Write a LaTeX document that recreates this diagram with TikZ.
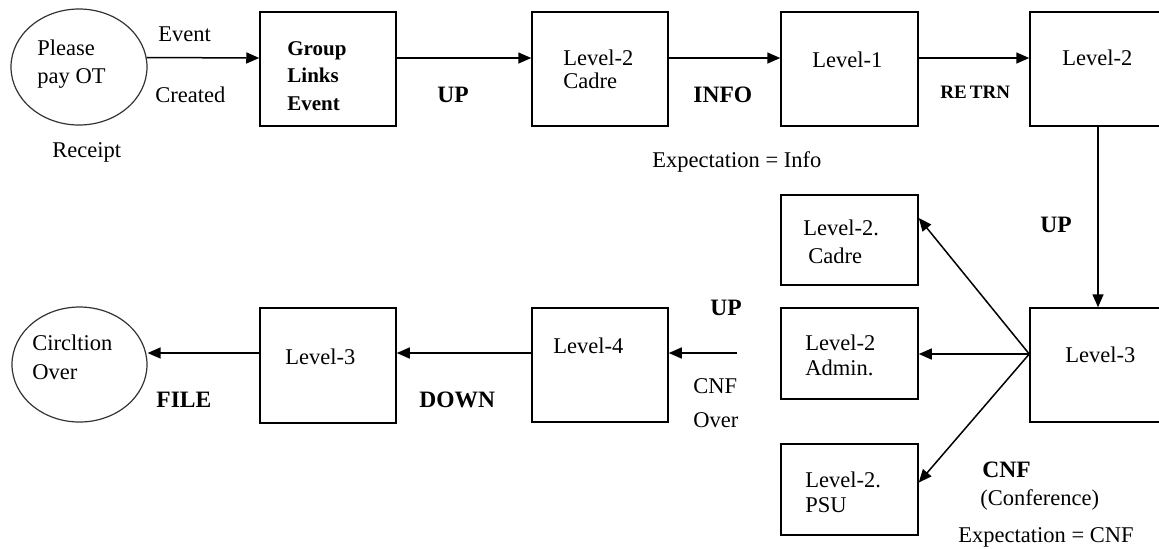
\documentclass[tikz,border=0pt]{standalone}
\usepackage{fontspec}
\setmainfont{Liberation Serif}
\usetikzlibrary{shapes.geometric,arrows.meta,fit}
\tikzset{
  box/.style={draw, line width=0.75pt, inner sep=0pt},
  oval/.style={draw, ellipse, line width=0.6pt, inner sep=0pt, draw=black!80},
  arr/.style={line width=0.75pt, -{Triangle[length=6.5pt,width=5.5pt]}},
  txt/.style={anchor=base west, inner sep=0pt, font=\fontsize{11.25}{13}\selectfont},
  btxt/.style={anchor=base west, inner sep=0pt, font=\fontsize{11.75}{13}\selectfont\bfseries},
}
\begin{document}
\begin{tikzpicture}[x=0.5pt,y=-0.5pt]
\useasboundingbox (0,0) rectangle (1159,548);
\clip (0,0) rectangle (1159,548);
% reference coordinates
\coordinate (ytop) at (0,58);
\coordinate (ymid) at (0,354);
\coordinate (ybot) at (0,353);
\coordinate (free) at (737,353);
% nodes
\node[oval, minimum width=68pt, minimum height=58pt] (pp) at (79,67) {};
\node[box, fit={(260,12)(396,126)}] (gle) {};
\node[box, fit={(532,12)(668,126)}] (l2c) {};
\node[box, fit={(781,12)(918,126)}] (l1) {};
\node[box, fit={(1030,12)(1166,126)}] (l2) {};
\node[box, fit={(1030,308)(1166,422)}] (l3r) {};
\node[box, fit={(781,195)(918,285)}] (cad) {};
\node[box, fit={(781,308)(918,399)}] (adm) {};
\node[box, fit={(781,444)(918,535)}] (psu) {};
\node[box, fit={(260,308)(396,423)}] (l3b) {};
\node[box, fit={(532,308)(668,422)}] (l4) {};
\node[oval, minimum width=67.5pt, minimum height=57.5pt] (co) at (79.5,364.5) {};
% connectors
\draw[arr] (pp.8) -- (gle.west |- ytop);
\draw[arr] (gle.east |- ytop) -- (l2c.west |- ytop);
\draw[arr] (l2c.east |- ytop) -- (l1.west |- ytop);
\draw[arr] (l1.east |- ytop) -- (l2.west |- ytop);
\draw[arr] (l2.south) -- (l3r.north);
\coordinate (fan) at (l3r.west |- ymid);
\draw[arr] (fan) -- ([yshift=11pt]cad.east);
\draw[arr] (fan) -- (adm.east |- ymid);
\draw[arr] (fan) -- ([yshift=3.5pt]psu.east);
\draw[arr] (free) -- (l4.east |- ybot);
\draw[arr] (l4.west |- ybot) -- (l3b.east |- ybot);
\draw[arr] (l3b.west |- ybot) -- (co.east |- ybot);
% texts
\node[txt] (t1) at (37,55) {Please};
\node[txt] (t2) at (37,83) {pay OT};
\node[txt] (t3) at (158,41) {Event};
\node[txt] (t4) at (155,102) {Created};
\node[txt] (t5) at (52,157) {Receipt};
\node[btxt, font=\fontsize{10.5}{13}\selectfont\bfseries] (t6) at (287,55) {Group};
\node[btxt, font=\fontsize{10.5}{13}\selectfont\bfseries] (t7) at (287,82) {Links};
\node[btxt, font=\fontsize{10.5}{13}\selectfont\bfseries] (t8) at (287,110) {Event};
\node[btxt] (t9) at (437,102) {UP};
\node[txt] (t10) at (563,65) {Level-2};
\node[txt] (t11) at (563,88) {Cadre};
\node[btxt] (t12) at (693,102) {INFO};
\node[txt] (t13) at (652,167) {Expectation = Info};
\node[txt] (t14) at (812,67) {Level-1};
\node[btxt, font=\fontsize{9.5}{11}\selectfont\bfseries] (t15) at (940,98) {RE\,TRN};
\node[txt] (t16) at (1062,65) {Level-2};
\node[btxt] (t17) at (1040,232) {UP};
\node[txt] (t18) at (803,235) {Level-2.};
\node[txt] (t19) at (808,263) {Cadre};
\node[txt] (t20) at (805,350) {Level-2};
\node[txt] (t21) at (805,375) {Admin.};
\node[txt] (t22) at (805,487) {Level-2.};
\node[txt] (t23) at (805,512) {PSU};
\node[txt] (t24) at (1065,362) {Level-3};
\node[btxt] (t25) at (982,477) {CNF};
\node[txt] (t26) at (980,505) {(Conference)};
\node[txt] (t27) at (958,542) {Expectation = CNF};
\node[txt] (t28) at (32,350) {Circltion};
\node[txt] (t29) at (32,379) {Over};
\node[btxt] (t30) at (156,407) {FILE};
\node[txt] (t31) at (285,364) {Level-3};
\node[btxt] (t32) at (419,407) {DOWN};
\node[txt] (t33) at (553,353) {Level-4};
\node[btxt] (t34) at (710,315) {UP};
\node[txt] (t35) at (693,393) {CNF};
\node[txt] (t36) at (693,427) {Over};
\end{tikzpicture}
\end{document}
